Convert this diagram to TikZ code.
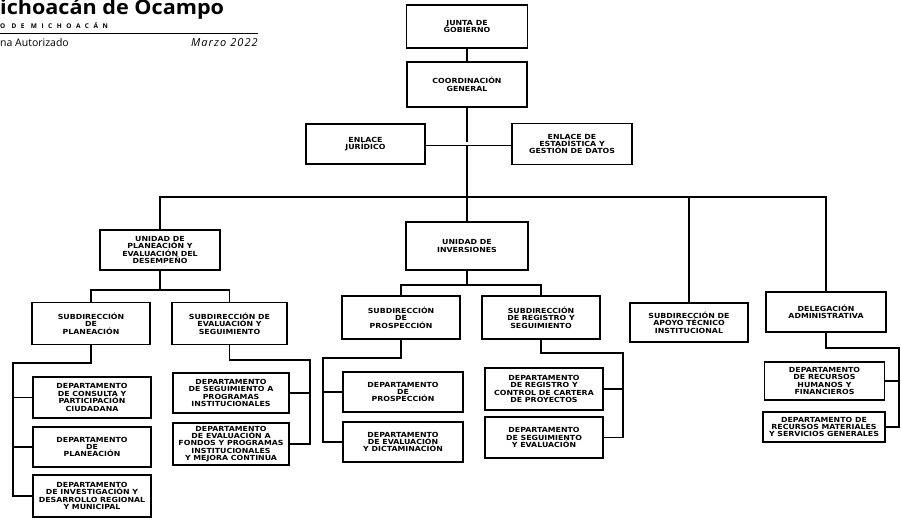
\documentclass[tikz,border=0pt]{standalone}
\usepackage{fontspec}
\newfontfamily\orgfont[FakeStretch=1.12]{DejaVu Sans}
\newfontfamily\headfont{Open Sans}
\tikzset{
  unitbox/.style={draw, line width=1.1pt, align=center, inner sep=1pt,
    font=\orgfont\bfseries\fontsize{7}{7.4}\selectfont},
  link/.style={line width=1.1pt}
}
\begin{document}
\begin{tikzpicture}[x=1pt, y=-1pt]
\useasboundingbox[fill=white] (0,0) rectangle (901,521);
% encabezado
\node[anchor=base west, inner sep=0, font=\headfont\bfseries\fontsize{20}{20}\selectfont\addfontfeatures{FakeStretch=1.08}] (titulo) at (0,15) {ichoacán de Ocampo};
\node[anchor=base west, inner sep=0, font=\headfont\bfseries\fontsize{6.5}{7}\selectfont\addfontfeatures{LetterSpace=70}] (estado) at (0,29) {O DE MICHOACÁN};
\draw[line width=0.8pt] (0,33) -- (258,33);
\node[anchor=base west, inner sep=0, font=\headfont\fontsize{10.5}{11}\selectfont] (autorizado) at (0,47) {na Autorizado};
\node[anchor=base east, inner sep=0, font=\headfont\itshape\fontsize{11}{11}\selectfont\addfontfeatures{LetterSpace=10}] (fecha) at (258,47) {Marzo 2022};
% nivel superior
\node[unitbox, minimum width=121, minimum height=43] (junta) at (467,26.5) {JUNTA DE\\GOBIERNO};
\node[unitbox, minimum width=120, minimum height=45] (coord) at (467,84.5) {COORDINACIÓN\\GENERAL};
\node[unitbox, minimum width=119, minimum height=40] (jur) at (365.5,144) {ENLACE\\JURÍDICO};
\node[unitbox, minimum width=120, minimum height=41] (est) at (572,144) {ENLACE DE\\ESTADÍSTICA Y\\GESTIÓN DE DATOS};
% unidades y subdirecciones
\node[unitbox, minimum width=120, minimum height=40] (upl) at (160,250) {UNIDAD DE\\PLANEACIÓN Y\\EVALUACIÓN DEL\\DESEMPEÑO};
\node[unitbox, minimum width=122, minimum height=48] (inv) at (467,246) {UNIDAD DE\\INVERSIONES};
\node[unitbox, minimum width=118, minimum height=42] (spl) at (91,323.5) {SUBDIRECCIÓN\\DE\\PLANEACIÓN};
\node[unitbox, minimum width=115, minimum height=42] (sev) at (229.5,323.5) {SUBDIRECCIÓN DE\\EVALUACIÓN Y\\SEGUIMIENTO};
\node[unitbox, minimum width=118, minimum height=43] (spr) at (401,317.5) {SUBDIRECCIÓN\\DE\\PROSPECCIÓN};
\node[unitbox, minimum width=118, minimum height=43] (srg) at (541,317.5) {SUBDIRECCIÓN\\DE REGISTRO Y\\SEGUIMIENTO};
\node[unitbox, minimum width=118, minimum height=39] (sat) at (689,322.5) {SUBDIRECCIÓN DE\\APOYO TÉCNICO\\INSTITUCIONAL};
\node[unitbox, minimum width=120, minimum height=40] (deleg) at (826,312) {DELEGACIÓN\\ADMINISTRATIVA};
% departamentos
\node[unitbox, minimum width=118, minimum height=41] (dcon) at (92,397.5) {DEPARTAMENTO\\DE CONSULTA Y\\PARTICIPACIÓN\\CIUDADANA};
\node[unitbox, minimum width=118, minimum height=40] (dpla) at (92,447) {DEPARTAMENTO\\DE\\PLANEACIÓN};
\node[unitbox, minimum width=118, minimum height=42] (dinv) at (92,496) {DEPARTAMENTO\\DE INVESTIGACIÓN Y\\DESARROLLO REGIONAL\\Y MUNICIPAL};
\node[unitbox, minimum width=116, minimum height=40] (dseg) at (231,393) {DEPARTAMENTO\\DE SEGUIMIENTO A\\PROGRAMAS\\INSTITUCIONALES};
\node[unitbox, minimum width=116, minimum height=42] (dfon) at (231,444) {DEPARTAMENTO\\DE EVALUACIÓN A\\FONDOS Y PROGRAMAS\\INSTITUCIONALES\\Y MEJORA CONTINUA};
\node[unitbox, minimum width=120, minimum height=40] (dpro) at (403,392) {DEPARTAMENTO\\DE\\PROSPECCIÓN};
\node[unitbox, minimum width=120, minimum height=40] (ddic) at (403,442) {DEPARTAMENTO\\DE EVALUACIÓN\\Y DICTAMINACIÓN};
\node[unitbox, minimum width=118, minimum height=42] (dreg) at (544,389) {DEPARTAMENTO\\DE REGISTRO Y\\CONTROL DE CARTERA\\DE PROYECTOS};
\node[unitbox, minimum width=118, minimum height=41] (dsev) at (544,437.5) {DEPARTAMENTO\\DE SEGUIMIENTO\\Y EVALUACIÓN};
\node[unitbox, minimum width=120, minimum height=38] (drh) at (824.5,381) {DEPARTAMENTO\\DE RECURSOS\\HUMANOS Y\\FINANCIEROS};
\node[unitbox, minimum width=122, minimum height=30] (drm) at (824,427) {DEPARTAMENTO DE\\RECURSOS MATERIALES\\Y SERVICIOS GENERALES};
% lineas de mando
\coordinate (bus) at (0,197);
\coordinate (railA) at (13,363);
\coordinate (railB) at (310,360);
\coordinate (railC) at (323,358);
\coordinate (railD) at (623,353);
\coordinate (railE) at (899,348);
\draw[link] (junta) -- (coord);
\draw[link] (coord) -- (inv);
\draw[link, double, double distance=3pt, line width=0.6pt] (jur) -- (est);
\draw[link] (upl.north) -- (upl.north |- bus) -- (deleg.north |- bus) -- (deleg.north);
\draw[link] (sat.north) -- (sat.north |- bus);
\draw[link] (upl.south) -- (upl.south |- 0,290);
\draw[link] (spl.north) -- (spl.north |- 0,290) -| (sev.north);
\draw[link] (inv.south) -- (inv.south |- 0,285);
\draw[link] (spr.north) -- (spr.north |- 0,285) -| (srg.north);
\draw[link] (spl.south) |- (railA) -- (railA |- dinv.west) -- (dinv.west);
\draw[link] (sev.south) |- (railB) -- (railB |- dfon.east) -- (dfon.east);
\draw[link] (spr.south) |- (railC) -- (railC |- ddic.west) -- (ddic.west);
\draw[link] (srg.south) |- (railD) -- (railD |- dsev.east) -- (dsev.east);
\draw[link] (deleg.south) |- (railE) -- (railE |- drm.east) -- (drm.east);
\foreach \d in {dcon,dpla}
  \draw[link] (\d.west) -- (\d.west -| railA);
\draw[link] (dseg.east) -- (dseg.east -| railB);
\draw[link] (dpro.west) -- (dpro.west -| railC);
\draw[link] (dreg.east) -- (dreg.east -| railD);
\draw[link] (drh.east) -- (drh.east -| railE);
\end{tikzpicture}
\end{document}
